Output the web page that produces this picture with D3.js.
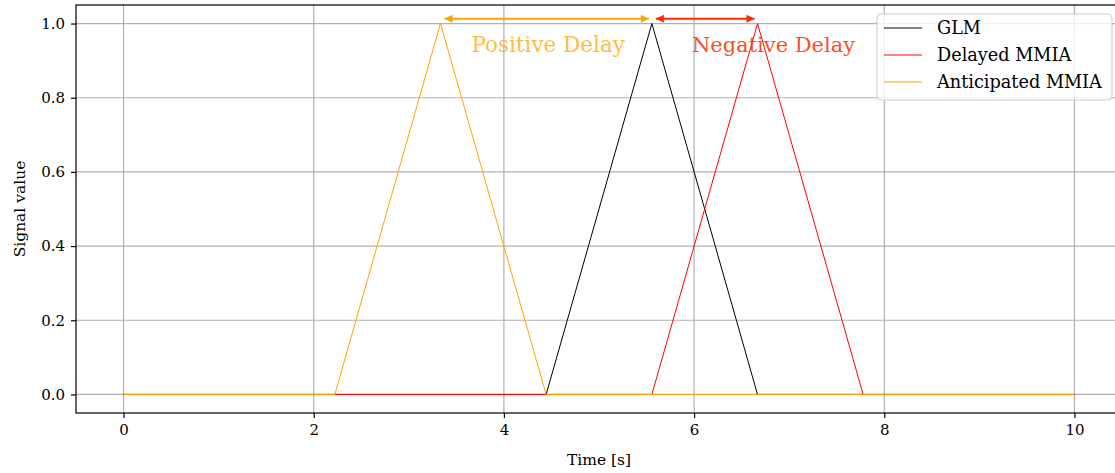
<!DOCTYPE html>
<html>
<head>
<meta charset="utf-8">
<script src="https://cdn.jsdelivr.net/npm/d3@7"></script>
<style>
  html, body { margin: 0; padding: 0; background: #fff; }
  svg { display: block; }
  text { font-family: "DejaVu Serif", "Liberation Serif", serif; }
</style>
</head>
<body>
<svg id="chart" width="1115" height="473"></svg>
<script>
// Time samples (seconds) and signal values for each triangular pulse
const glmTime = [0, 4.444, 5.556, 6.667, 10];
const glmValue = [0, 0, 1, 0, 0];
const delayedTime = [0, 5.556, 6.667, 7.778, 10];
const delayedValue = [0, 0, 1, 0, 0];
const anticipatedTime = [0, 2.222, 3.333, 4.444, 10];
const anticipatedValue = [0, 0, 1, 0, 0];

const seriesNames = ["GLM", "Delayed MMIA", "Anticipated MMIA"];
const seriesColors = ["#000000", "#ff0000", "#ffa500"];

const xTicks = [0, 2, 4, 6, 8, 10];
const yTicks = [0.0, 0.2, 0.4, 0.6, 0.8, 1.0];

// Delay annotations: [from, to] in seconds, drawn as double-headed arrows
const positiveDelay = [3.333, 5.556];
const negativeDelay = [5.556, 6.667];
const arrowLevel = 1.013;

const svg = d3.select("#chart");
const margin = { left: 76, top: 5, right: -7, bottom: 60 };
const W = 1115, H = 473;

const x = d3.scaleLinear().domain([-0.5, 10.5]).range([margin.left, W - margin.right]);
const y = d3.scaleLinear().domain([-0.05, 1.05]).range([H - margin.bottom, margin.top]);

const plot = svg.append("g");

// grid
plot.append("g").selectAll("line").data(xTicks).join("line")
  .attr("x1", d => x(d)).attr("x2", d => x(d))
  .attr("y1", y.range()[0]).attr("y2", y.range()[1])
  .attr("stroke", "#b0b0b0").attr("stroke-width", 1.2);
plot.append("g").selectAll("line").data(yTicks).join("line")
  .attr("y1", d => y(d)).attr("y2", d => y(d))
  .attr("x1", x.range()[0]).attr("x2", x.range()[1])
  .attr("stroke", "#b0b0b0").attr("stroke-width", 1.2);

// series
const series = [
  { t: glmTime, v: glmValue },
  { t: delayedTime, v: delayedValue },
  { t: anticipatedTime, v: anticipatedValue }
];
const line = d3.line().x(d => x(d[0])).y(d => y(d[1]));
series.forEach((s, i) => {
  plot.append("path")
    .attr("d", line(s.t.map((t, k) => [t, s.v[k]])))
    .attr("fill", "none")
    .attr("stroke", seriesColors[i])
    .attr("stroke-width", 1);
});

// arrow markers
const defs = svg.append("defs");
function marker(id, color, start) {
  const m = defs.append("marker")
    .attr("id", id)
    .attr("viewBox", "0 0 10 10")
    .attr("refX", start ? 0 : 10).attr("refY", 5)
    .attr("markerWidth", 10).attr("markerHeight", 8)
    .attr("markerUnits", "userSpaceOnUse")
    .attr("orient", "auto");
  m.append("path")
    .attr("d", start ? "M10,0 L0,5 L10,10 Z" : "M0,0 L10,5 L0,10 Z")
    .attr("fill", color);
}
marker("oS", "#ffa500", true); marker("oE", "#ffa500", false);
marker("rS", "#ff2a00", true); marker("rE", "#ff2a00", false);

function delayArrow(range, color, ms, me) {
  plot.append("line")
    .attr("x1", x(range[0]) + 4).attr("x2", x(range[1]) - 3)
    .attr("y1", y(arrowLevel)).attr("y2", y(arrowLevel))
    .attr("stroke", color).attr("stroke-width", 2)
    .attr("marker-start", `url(#${ms})`)
    .attr("marker-end", `url(#${me})`);
}
delayArrow(positiveDelay, "#ffa500", "oS", "oE");
delayArrow(negativeDelay, "#ff2a00", "rS", "rE");

plot.append("text")
  .attr("x", x((positiveDelay[0] + positiveDelay[1]) / 2) + 2).attr("y", 52)
  .attr("text-anchor", "middle").attr("font-size", 21.5)
  .attr("fill", "#ffa500").attr("fill-opacity", 0.75)
  .text("Positive Delay");
plot.append("text")
  .attr("x", x(negativeDelay[1]) + 16).attr("y", 52)
  .attr("text-anchor", "middle").attr("font-size", 21)
  .attr("fill", "#ff2a00").attr("fill-opacity", 0.85)
  .text("Negative Delay");

// axes frame
svg.append("rect")
  .attr("x", x.range()[0]).attr("y", y.range()[1])
  .attr("width", x.range()[1] - x.range()[0])
  .attr("height", y.range()[0] - y.range()[1])
  .attr("fill", "none").attr("stroke", "#000").attr("stroke-width", 1.2);

const xAxis = svg.append("g")
  .attr("transform", `translate(0,${y.range()[0]})`)
  .call(d3.axisBottom(x).tickValues(xTicks).tickFormat(d3.format("d")).tickSize(5).tickPadding(6));
const yAxis = svg.append("g")
  .attr("transform", `translate(${x.range()[0]},0)`)
  .call(d3.axisLeft(y).tickValues(yTicks).tickFormat(d3.format(".1f")).tickSize(5).tickPadding(6));
[xAxis, yAxis].forEach(a => {
  a.select(".domain").remove();
  a.selectAll(".tick line").attr("stroke", "#000").attr("stroke-width", 1.2);
  a.selectAll(".tick text").attr("font-size", 15).attr("fill", "#000")
    .attr("font-family", "DejaVu Serif, serif");
});

svg.append("text")
  .attr("x", x(5)).attr("y", 465)
  .attr("text-anchor", "middle").attr("font-size", 15.5)
  .text("Time [s]");
svg.append("text")
  .attr("transform", `translate(25,${(y.range()[0] + y.range()[1]) / 2}) rotate(-90)`)
  .attr("text-anchor", "middle").attr("font-size", 15.5)
  .text("Signal value");

// legend
const lg = svg.append("g").attr("transform", "translate(877,14)");
lg.append("rect")
  .attr("width", 235).attr("height", 86).attr("rx", 4)
  .attr("fill", "#fff").attr("fill-opacity", 0.8)
  .attr("stroke", "#cccccc").attr("stroke-width", 1);
seriesNames.forEach((name, i) => {
  const ry = 14 + i * 27;
  lg.append("line")
    .attr("x1", 7).attr("x2", 45).attr("y1", ry).attr("y2", ry)
    .attr("stroke", seriesColors[i]).attr("stroke-width", 1);
  lg.append("text")
    .attr("x", 60).attr("y", ry + 6)
    .attr("font-size", 17.7).text(name);
});
</script>
</body>
</html>
